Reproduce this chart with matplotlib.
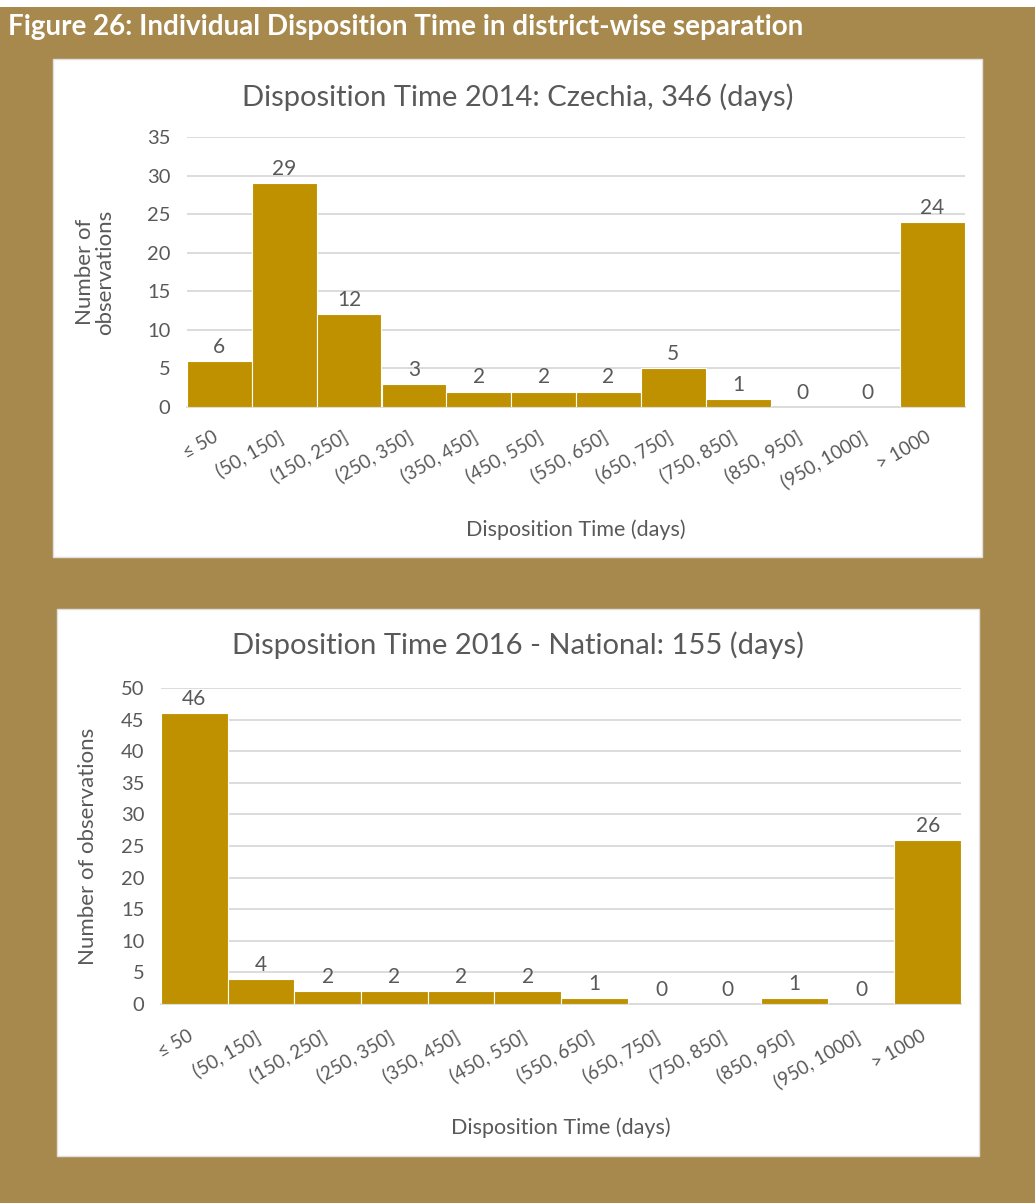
import matplotlib.pyplot as plt
from matplotlib.patches import Rectangle
from matplotlib.transforms import ScaledTranslation

# category bins shared by both charts
bins = ["≤ 50", "(50, 150]", "(150, 250]", "(250, 350]", "(350, 450]", "(450, 550]",
        "(550, 650]", "(650, 750]", "(750, 850]", "(850, 950]", "(950, 1000]", "> 1000"]

counts_2014 = [6, 29, 12, 3, 2, 2, 2, 5, 1, 0, 0, 24]
counts_2016 = [46, 4, 2, 2, 2, 2, 1, 0, 0, 1, 0, 26]

title_2014 = "Disposition Time 2014: Czechia, 346 (days)"
title_2016 = "Disposition Time 2016 - National: 155 (days)"
fig_title = "Figure 26: Individual Disposition Time in district-wise separation"

OLIVE = "#A7894D"
GOLD = "#BF9000"
GREY = "#595959"
GRID = "#D9D9D9"
W, H = 1035, 1203

plt.rcParams["font.family"] = ["Lato", "DejaVu Sans"]

fig = plt.figure(figsize=(W / 100, H / 100), dpi=100, facecolor=OLIVE)


def box(x0, y0, x1, y1):
    """pixel box (top-left origin) -> figure fraction [l, b, w, h]"""
    return [x0 / W, 1 - y1 / H, (x1 - x0) / W, (y1 - y0) / H]


def panel(x0, y0, x1, y1):
    l, b, w, h = box(x0, y0, x1, y1)
    fig.add_artist(Rectangle((l, b), w, h, transform=fig.transFigure,
                             facecolor="white", edgecolor="#E0E0E0", lw=1, zorder=0))


# thin white strip above the caption bar
l, b, w, h = box(0, 0, W, 7)
fig.add_artist(Rectangle((l, b), w, h, transform=fig.transFigure,
                         facecolor="white", edgecolor="none", zorder=0))
fig.text(8 / W, 1 - 27 / H, fig_title, color="white", fontsize=20,
         fontweight="bold", va="center", ha="left")

panel(53, 59, 982, 557)
panel(57, 609, 979, 1156)


def draw(rect, pan, counts, ymax, title, title_y, ylabel, ylabel_x, xlabel_y, xpad):
    ax = fig.add_axes(box(*rect))
    xs = range(len(bins))
    ax.bar(xs, counts, width=1.0, color=GOLD, edgecolor="white", lw=0.8, zorder=3)
    for x, v in zip(xs, counts):
        ax.annotate(str(v), (x, v), xytext=(0, 3), textcoords="offset points",
                    ha="center", va="bottom", fontsize=15, color=GREY)
    ax.set_xlim(-0.5, len(bins) - 0.5)
    ax.set_ylim(0, ymax)
    ax.set_yticks(range(0, ymax + 1, 5))
    ax.yaxis.grid(True, color=GRID, lw=1.3, zorder=0)
    ax.set_axisbelow(True)
    for s in ("top", "right", "left"):
        ax.spines[s].set_visible(False)
    ax.spines["bottom"].set_color(GRID)
    ax.spines["bottom"].set_linewidth(1.3)
    ax.tick_params(axis="both", length=0, colors=GREY, labelsize=14.5)
    ax.tick_params(axis="y", pad=12)
    ax.set_xticks(list(xs))
    ax.set_xticklabels(bins, rotation=30, ha="right", va="top",
                       rotation_mode="anchor", fontsize=13.5)
    ax.tick_params(axis="x", pad=xpad)
    # nudge the slanted labels a little left, like Excel places them
    shift = ScaledTranslation(-5 / 72, 0, fig.dpi_scale_trans)
    for lab in ax.get_xticklabels():
        lab.set_transform(lab.get_transform() + shift)
    fig.text(0.5 * (pan[0] + pan[1]) / W, 1 - title_y / H, title,
             ha="center", va="center", fontsize=21, color=GREY)
    fig.text(ylabel_x / W, 1 - 0.5 * (rect[1] + rect[3]) / H, ylabel,
             rotation=90, ha="center", va="center", fontsize=16, color=GREY,
             multialignment="center", linespacing=1.0)
    fig.text(0.5 * (rect[0] + rect[2]) / W, 1 - xlabel_y / H,
             "Disposition Time (days)", ha="center", va="center",
             fontsize=15.5, color=GREY)
    return ax


draw((187, 137, 965, 407), (53, 982), counts_2014, 35, title_2014, 97,
     "Number of\nobservations", 95, 530, 15)
draw((161, 688, 961, 1004), (57, 979), counts_2016, 50, title_2016, 645,
     "Number of observations", 88, 1128, 17)

fig.savefig("out.png", dpi=100, facecolor=OLIVE)
